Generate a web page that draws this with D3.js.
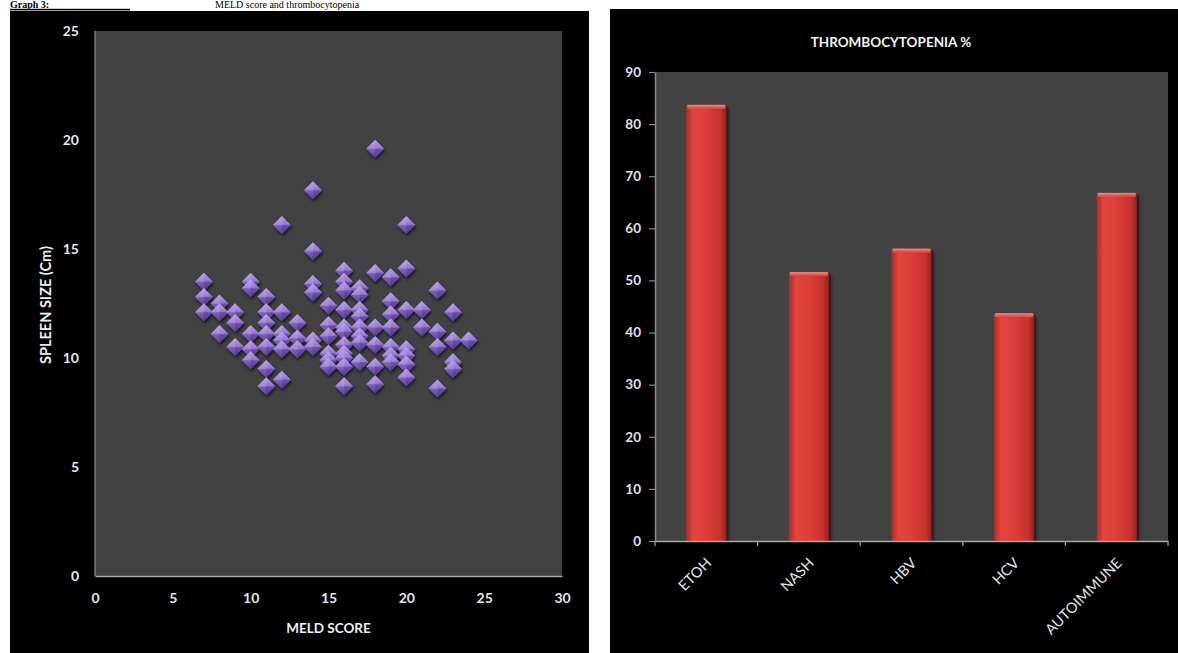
<!DOCTYPE html>
<html>
<head>
<meta charset="utf-8">
<script src="https://cdn.jsdelivr.net/npm/d3@7"></script>
<style>
  html, body { margin: 0; padding: 0; background: #fff; }
  svg { display: block; }
  text { font-family: Lato, "Open Sans", sans-serif; }
  text.caption { font-family: "Liberation Serif", "DejaVu Serif", serif; }
</style>
</head>
<body>
<svg id="chart" width="1178" height="653"></svg>
<script>
// MELD score vs spleen size (one entry per patient)
const meldScores = [
  7, 7, 7,
  8, 8, 8,
  9, 9, 9,
  10, 10, 10, 10, 10,
  11, 11, 11, 11, 11, 11, 11,
  12, 12, 12, 12, 12, 12,
  13, 13, 13,
  14, 14, 14, 14, 14, 14,
  15, 15, 15, 15, 15, 15,
  16, 16, 16, 16, 16, 16, 16, 16, 16, 16, 16,
  17, 17, 17, 17, 17, 17, 17, 17,
  18, 18, 18, 18, 18, 18,
  19, 19, 19, 19, 19, 19, 19,
  20, 20, 20, 20, 20, 20, 20,
  21, 21,
  22, 22, 22, 22,
  23, 23, 23, 23,
  24
];
const spleenSizes = [
  13.5, 12.8, 12.1,
  12.5, 12.1, 11.1,
  12.1, 11.6, 10.5,
  13.5, 13.2, 11.1, 10.4, 9.9,
  12.8, 12.1, 11.6, 11.1, 10.5, 9.5, 8.7,
  16.1, 12.1, 11.1, 10.8, 10.4, 9.0,
  11.6, 10.9, 10.4,
  17.7, 14.9, 13.4, 13.0, 10.8, 10.5,
  12.4, 11.5, 11.0, 10.2, 9.9, 9.6,
  14.0, 13.5, 13.1, 12.2, 11.4, 11.2, 10.6, 10.2, 10.0, 9.6, 8.7,
  13.2, 12.9, 12.2, 11.9, 11.4, 11.0, 10.7, 9.8,
  19.6, 13.9, 11.4, 10.6, 9.6, 8.8,
  13.7, 12.6, 12.0, 11.4, 10.5, 10.1, 9.8,
  16.1, 14.1, 12.2, 10.4, 10.1, 9.7, 9.1,
  12.2, 11.4,
  13.1, 11.2, 10.5, 8.6,
  12.1, 10.8, 9.8, 9.5,
  10.8
];
const meldTicks = [0, 5, 10, 15, 20, 25, 30];
const spleenTicks = [0, 5, 10, 15, 20, 25];

// Thrombocytopenia by aetiology
const aetiologies = ["ETOH", "NASH", "HBV", "HCV", "AUTOIMMUNE"];
const thrombocytopeniaPct = [83.7, 51.6, 56.1, 43.7, 66.8];
const pctTicks = [0, 10, 20, 30, 40, 50, 60, 70, 80, 90];

const svg = d3.select("#chart");
const defs = svg.append("defs");

// ---------- shared paint ----------
const dGrad = defs.append("linearGradient").attr("id", "diamondGrad")
  .attr("x1", 0).attr("y1", 0).attr("x2", 0).attr("y2", 1);
[["0%", "#b9a0ea"], ["45%", "#9579d2"], ["55%", "#7c5fbb"], ["100%", "#5c4392"]]
  .forEach(([o, c]) => dGrad.append("stop").attr("offset", o).attr("stop-color", c));

const shadow = defs.append("filter").attr("id", "softShadow")
  .attr("x", "-50%").attr("y", "-50%").attr("width", "200%").attr("height", "200%");
shadow.append("feDropShadow").attr("dx", 1).attr("dy", 2).attr("stdDeviation", 1.6)
  .attr("flood-color", "#000").attr("flood-opacity", 0.7);

const barGrad = defs.append("linearGradient").attr("id", "barGrad")
  .attr("x1", 0).attr("y1", 0).attr("x2", 1).attr("y2", 0);
[["0%", "#b02c28"], ["18%", "#e2453f"], ["50%", "#dc3e38"], ["85%", "#c6322d"], ["100%", "#962020"]]
  .forEach(([o, c]) => barGrad.append("stop").attr("offset", o).attr("stop-color", c));

const capGrad = defs.append("linearGradient").attr("id", "capGrad")
  .attr("x1", 0).attr("y1", 0).attr("x2", 0).attr("y2", 1);
[["0%", "#f08a82"], ["100%", "#d9413b"]]
  .forEach(([o, c]) => capGrad.append("stop").attr("offset", o).attr("stop-color", c));

// ---------- caption strip above the panels ----------
const cap = svg.append("g");
cap.append("text").attr("class", "caption").attr("x", 10).attr("y", 8)
  .attr("font-size", 10).attr("font-weight", "bold").attr("fill", "#000").text("Graph 3:");
cap.append("rect").attr("x", 10).attr("y", 8.8).attr("width", 120).attr("height", 1.6).attr("fill", "#000");
cap.append("text").attr("class", "caption").attr("x", 215).attr("y", 8)
  .attr("font-size", 10).attr("fill", "#000").text("MELD score and thrombocytopenia");

// ---------- left panel: scatter ----------
svg.append("rect").attr("x", 10).attr("y", 11).attr("width", 579).attr("height", 642).attr("fill", "#000");

const sx = d3.scaleLinear().domain([0, 30]).range([95, 562]);
const sy = d3.scaleLinear().domain([0, 25]).range([576, 31]);

svg.append("rect").attr("x", sx(0)).attr("y", sy(25))
  .attr("width", sx(30) - sx(0)).attr("height", sy(0) - sy(25)).attr("fill", "#424242");

svg.append("line").attr("x1", sx(0)).attr("x2", sx(0)).attr("y1", sy(25)).attr("y2", sy(0))
  .attr("stroke", "#7c7c7c").attr("stroke-width", 1.5);

const xAxisL = svg.append("g").attr("transform", `translate(0,${sy(0)})`)
  .call(d3.axisBottom(sx).tickValues(meldTicks).tickSize(0).tickPadding(17));
xAxisL.select(".domain").attr("stroke", "#a8a8a8").attr("stroke-width", 1.5);
xAxisL.selectAll("text").attr("fill", "#e6e6e6").attr("font-size", 14).attr("font-weight", "bold");

const yAxisL = svg.append("g").attr("transform", `translate(${sx(0)},0)`)
  .call(d3.axisLeft(sy).tickValues(spleenTicks).tickSize(0).tickPadding(16));
yAxisL.select(".domain").remove();
yAxisL.selectAll("text").attr("fill", "#e6e6e6").attr("font-size", 14).attr("font-weight", "bold");

svg.append("text").attr("x", (sx(0) + sx(30)) / 2).attr("y", 633)
  .attr("text-anchor", "middle").attr("fill", "#f0f0f0").attr("font-size", 13.5)
  .attr("font-weight", "bold").text("MELD SCORE");
svg.append("text").attr("transform", `translate(51,305) rotate(-90)`)
  .attr("text-anchor", "middle").attr("fill", "#f0f0f0").attr("font-size", 14.5)
  .attr("font-weight", "bold").text("SPLEEN SIZE (Cm)");

const hw = 9, hh = 9;
const diamond = `M0,${-hh} L${hw},0 L0,${hh} L${-hw},0 Z`;
const pts = svg.append("g");
meldScores.forEach((m, i) => {
  const g = pts.append("g").attr("transform", `translate(${sx(m)},${sy(spleenSizes[i])})`);
  g.append("path").attr("d", diamond).attr("fill", "url(#diamondGrad)").attr("filter", "url(#softShadow)");
  // facet shading
  g.append("path").attr("d", `M0,${-hh} L${-hw},0 L0,0 Z`).attr("fill", "#c2acef").attr("opacity", 0.35);
  g.append("path").attr("d", `M0,${hh} L${hw},0 L0,0 Z`).attr("fill", "#3e2a6a").attr("opacity", 0.3);
});

// ---------- right panel: bars ----------
svg.append("rect").attr("x", 610).attr("y", 9).attr("width", 568).attr("height", 644).attr("fill", "#000");

const bx = d3.scaleBand().domain(aetiologies).range([655, 1168]).paddingInner(0.61).paddingOuter(0.305);
const by = d3.scaleLinear().domain([0, 90]).range([541, 72]);

svg.append("rect").attr("x", 655).attr("y", by(90)).attr("width", 1168 - 655)
  .attr("height", by(0) - by(90)).attr("fill", "#424242");

svg.append("text").attr("x", 891).attr("y", 47).attr("text-anchor", "middle")
  .attr("fill", "#f2f2f2").attr("font-size", 13.5).attr("font-weight", "bold")
  .text("THROMBOCYTOPENIA %");

const bars = svg.append("g");
aetiologies.forEach((a, i) => {
  const v = thrombocytopeniaPct[i];
  const x0 = bx(a), w = bx.bandwidth(), yTop = by(v);
  bars.append("rect").attr("x", x0 + 2).attr("y", yTop + 2).attr("width", w).attr("height", by(0) - yTop - 2)
    .attr("fill", "#000").attr("opacity", 0.45).attr("filter", "url(#softShadow)");
  bars.append("rect").attr("x", x0).attr("y", yTop).attr("width", w).attr("height", by(0) - yTop)
    .attr("fill", "url(#barGrad)");
  bars.append("rect").attr("x", x0 + 1).attr("y", yTop).attr("width", w - 2).attr("height", 4)
    .attr("fill", "url(#capGrad)");
});

const yAxisR = svg.append("g").attr("transform", "translate(655,0)")
  .call(d3.axisLeft(by).tickValues(pctTicks).tickSize(6).tickSizeOuter(0).tickPadding(8));
yAxisR.select(".domain").attr("stroke", "#8c8c8c").attr("stroke-width", 1.5);
yAxisR.selectAll(".tick line").attr("stroke", "#8c8c8c").attr("stroke-width", 1.2);
yAxisR.selectAll("text").attr("fill", "#e0e0e0").attr("font-size", 13.5).attr("font-weight", "bold");

const xAxisR = svg.append("g").attr("transform", `translate(0,${by(0)})`)
  .call(d3.axisBottom(bx).tickSize(0).tickFormat(""));
xAxisR.select(".domain").attr("stroke", "#a8a8a8").attr("stroke-width", 1.5);
// tick marks between categories
const step = bx.step();
d3.range(aetiologies.length + 1).forEach(k => {
  const xx = 655 + k * step;
  xAxisR.append("line").attr("x1", xx).attr("x2", xx).attr("y1", 0).attr("y2", 5)
    .attr("stroke", "#a8a8a8").attr("stroke-width", 1.2);
});
aetiologies.forEach(a => {
  const cx = bx(a) + bx.bandwidth() / 2;
  svg.append("text").attr("transform", `translate(${cx + 6},${by(0) + 23}) rotate(-45)`)
    .attr("text-anchor", "end").attr("fill", "#e6e6e6").attr("font-size", 14.5)
    .text(a);
});
</script>
</body>
</html>
